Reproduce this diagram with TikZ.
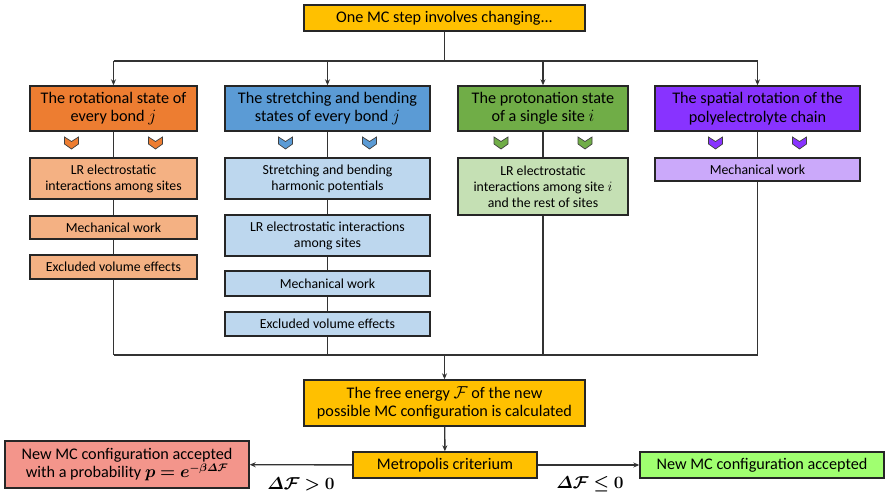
\documentclass[tikz,border=0pt]{standalone}
\usepackage{amsmath,bm}
\usepackage{fontspec}
\setmainfont{Carlito}
\usetikzlibrary{arrows.meta}
\definecolor{cOrange}{HTML}{ED7D31}
\definecolor{cOrangeL}{HTML}{F4B183}
\definecolor{cBlue}{HTML}{5B9BD5}
\definecolor{cBlueL}{HTML}{BDD7EE}
\definecolor{cGreen}{HTML}{70AD47}
\definecolor{cGreenL}{HTML}{C5E0B4}
\definecolor{cPurple}{HTML}{8833FF}
\definecolor{cPurpleL}{HTML}{CBA9FA}
\definecolor{cGold}{HTML}{FFC000}
\definecolor{cRed}{HTML}{F3958B}
\definecolor{cLime}{HTML}{A0FF70}
\tikzset{
  box/.style={draw=black!85, line width=1.4pt, inner sep=0pt, align=center,
    font=\fontsize{16.2}{18.5}\selectfont},
  subbox/.style={box, font=\fontsize{13.8}{16}\selectfont},
  link/.style={draw=black!80, line width=1.4pt},
  arr/.style={link, -{Stealth[length=6pt,width=5pt]}},
  chev/.style={draw=black!75, line width=0.7pt, line join=miter}
}
\begin{document}
\begin{tikzpicture}[x=1pt,y=-1pt]
    \useasboundingbox (0,0) rectangle (886,495);
    % top box and the four changes
    \node[box, fill=cGold, minimum width=281pt, minimum height=26pt] (top) at (444.5,18) {One MC step involves changing...};
    \node[box, fill=cOrange, minimum width=167pt, minimum height=45pt] (rot) at (113.5,108.5) {The rotational state of\\every bond $j$};
    \node[box, fill=cBlue, minimum width=205pt, minimum height=45pt] (str) at (327.5,108.5) {The stretching and bending\\states of every bond $j$};
    \node[box, fill=cGreen, minimum width=170pt, minimum height=45pt] (pro) at (543,108.5) {The protonation state\\of a single site $i$};
    \node[box, fill=cPurple, minimum width=205pt, minimum height=45pt] (spa) at (757.5,108.5) {The spatial rotation of the\\polyelectrolyte chain};
    % contributions
    \node[subbox, fill=cOrangeL, minimum width=167pt, minimum height=41pt] (rotA) at (113.5,178.5) {LR electrostatic\\interactions among sites};
    \node[subbox, fill=cOrangeL, minimum width=167pt, minimum height=23pt] (rotB) at (113.5,227.5) {Mechanical work};
    \node[subbox, fill=cOrangeL, minimum width=167pt, minimum height=24pt] (rotC) at (113.5,267) {Excluded volume effects};
    \node[subbox, fill=cBlueL, minimum width=205pt, minimum height=41pt] (strA) at (327.5,178.5) {Stretching and bending\\harmonic potentials};
    \node[subbox, fill=cBlueL, minimum width=205pt, minimum height=41pt] (strB) at (327.5,235.5) {LR electrostatic interactions\\among sites};
    \node[subbox, fill=cBlueL, minimum width=205pt, minimum height=25pt] (strC) at (327.5,283.5) {Mechanical work};
    \node[subbox, fill=cBlueL, minimum width=205pt, minimum height=24pt] (strD) at (327.5,324) {Excluded volume effects};
    \node[subbox, fill=cGreenL, minimum width=170pt, minimum height=57pt] (proA) at (543,186.5) {LR electrostatic\\interactions among site $i$\\and the rest of sites};
    \node[subbox, fill=cPurpleL, minimum width=205pt, minimum height=23pt] (spaA) at (757.5,169.5) {Mechanical work};
    % bottom part
    \node[box, fill=cGold, minimum width=281pt, minimum height=46pt] (free) at (444.5,403) {The free energy $\mathcal{F}$ of the new\\possible MC configuration is calculated};
    \node[box, fill=cGold, minimum width=184pt, minimum height=26pt] (metro) at (445,465) {Metropolis criterium};
    \node[box, fill=cRed, minimum width=244pt, minimum height=47pt] (prob) at (127,464.5) {New MC configuration accepted\\with a probability $\bm{p=e^{-\beta\varDelta\mathcal{F}}}$};
    \node[box, fill=cLime, minimum width=244pt, minimum height=26pt] (accept) at (762,465) {New MC configuration accepted};
    \node[font=\fontsize{16}{18}\selectfont] (gt) at (301,484) {$\bm{\varDelta\mathcal{F}>0}$};
    \node[font=\fontsize{16}{18}\selectfont] (le) at (590,484) {$\bm{\varDelta\mathcal{F}\le 0}$};
    % connectors
    \coordinate (split) at (444.5,61);
    \coordinate (join) at (444.5,355);
    \draw[link] (top) -- (split);
    \draw[link] (rot.north |- split) -- (spa.north |- split);
    \foreach \b in {rot,str,pro,spa}
        \draw[arr] (\b.north |- split) -- (\b.north);
    \draw[link] (rot) -- (rotA) -- (rotB) -- (rotC) -- (rotC.south |- join);
    \draw[link] (str) -- (strA) -- (strB) -- (strC) -- (strD) -- (strD.south |- join);
    \draw[link] (pro) -- (proA) -- (proA.south |- join);
    \draw[link] (spa) -- (spaA) -- (spaA.south |- join);
    \draw[link] (rotC.south |- join) -- (spaA.south |- join);
    \draw[arr] (join) -- (free);
    \draw[arr] (free) -- (metro);
    \draw[arr] (metro) -- (prob);
    \draw[arr] (metro) -- (accept);
    % chevrons under each change
    \foreach \cx/\col in {113.5/cOrange, 327.5/cBlue, 543/cGreen, 757.5/cPurple}
        \foreach \dx in {-42,42}
            \filldraw[chev, fill=\col, shift={({\cx+\dx},143)}]
                (-7,-6) -- (0,-1.5) -- (7,-6) -- (7,1) -- (0,6) -- (-7,1) -- cycle;
\end{tikzpicture}
\end{document}
